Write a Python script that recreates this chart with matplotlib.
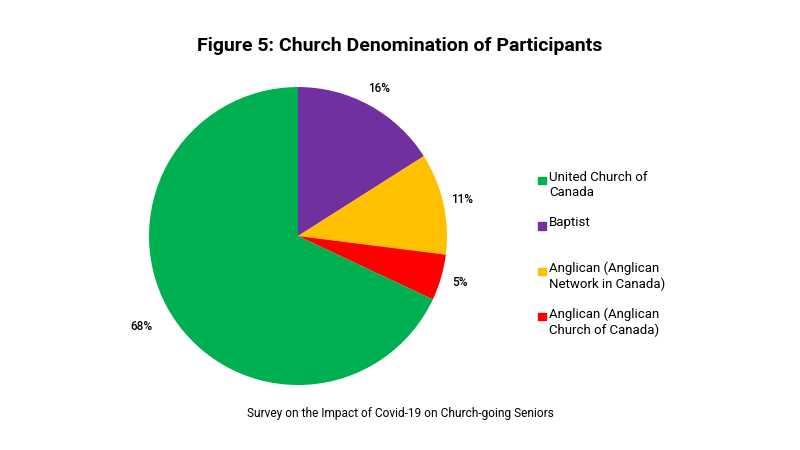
import matplotlib
matplotlib.use("Agg")
from matplotlib import pyplot as plt
from matplotlib.patches import Rectangle

plt.rcParams['font.family'] = ['Roboto', 'DejaVu Sans']

# data, clockwise from 12 o'clock
denominations = ['Baptist', 'Anglican (Anglican Network in Canada)',
                 'Anglican (Anglican Church of Canada)', 'United Church of Canada']
shares = [16, 11, 5, 68]
colours = ['#7030A0', '#FFC000', '#FF0000', '#00B050']

# legend order and wrapped labels
legend_labels = ['United Church of\nCanada', 'Baptist',
                 'Anglican (Anglican\nNetwork in Canada)', 'Anglican (Anglican\nChurch of Canada)']
legend_colours = ['#00B050', '#7030A0', '#FFC000', '#FF0000']

fig = plt.figure(figsize=(8, 4.5), dpi=100)
fig.patch.set_facecolor('white')

ax = fig.add_axes([0.18625, 0.1444, 0.3725, 0.6622])
wedges, texts = ax.pie(shares, colors=colours, startangle=90, counterclock=False,
                       labels=[str(s) + '%' for s in shares], labeldistance=1.13,
                       textprops={'fontsize': 8.5, 'fontweight': 'medium'})
for t in texts:
    t.set_horizontalalignment('center')
    t.set_verticalalignment('center')
# 68% label sits a bit further out in the original
x, y = texts[3].get_position()
texts[3].set_position((x * 1.1, y * 1.0))
ax.set_xlim(-1, 1)
ax.set_ylim(-1, 1)
ax.set_aspect('equal')

fig.text(0.5, 0.898, 'Figure 5: Church Denomination of Participants',
         ha='center', va='center', fontsize=14, fontweight='bold')
fig.text(0.5, 0.08, 'Survey on the Impact of Covid-19 on Church-going Seniors',
         ha='center', va='center', fontsize=8.6)

# legend built by hand so the marker sits on the first line
for i, (lab, col) in enumerate(zip(legend_labels, legend_colours)):
    y = 0.600 - i * 0.101
    fig.patches.append(Rectangle((0.673, y - 0.009), 0.009, 0.016,
                                 transform=fig.transFigure, color=col))
    fig.text(0.686, y + 0.02, lab, ha='left', va='top', fontsize=9.5,
             linespacing=1.25)

plt.savefig('out.png', dpi=100)
